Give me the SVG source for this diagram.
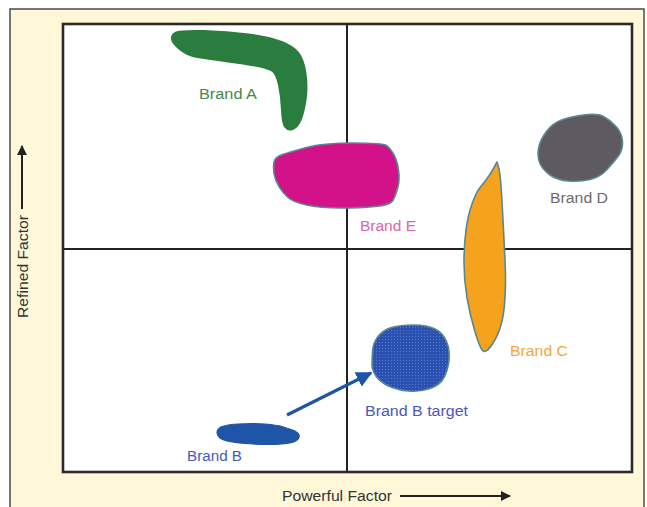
<svg xmlns="http://www.w3.org/2000/svg" width="647" height="507" viewBox="0 0 647 507">
<style>
.lbl{font-family:"Liberation Sans",Arial,sans-serif;font-size:15.5px}
.ax{font-family:"Liberation Sans",Arial,sans-serif;font-size:15.5px;fill:#333}
.blob{stroke:#5a8790;stroke-width:1.6;stroke-linejoin:round}
.grid{stroke:#222;stroke-width:2;fill:none}
</style>
<defs>
<pattern id="dots" width="3" height="3" patternUnits="userSpaceOnUse">
<rect width="3" height="3" fill="#2a50b0"/>
<rect x="1" y="0" width="1" height="1" fill="#5577cc"/>
</pattern>
<marker id="ah" viewBox="0 0 10 10" refX="9" refY="5" markerWidth="5" markerHeight="5" orient="auto" markerUnits="strokeWidth">
<path d="M0,0 L10,5 L0,10 z" fill="#1f55a6"/>
</marker>
<marker id="ahk" viewBox="0 0 10 10" refX="9" refY="5" markerWidth="5" markerHeight="5" orient="auto" markerUnits="strokeWidth">
<path d="M0,0 L10,5 L0,10 z" fill="#222"/>
</marker>
</defs>
<rect x="0" y="0" width="647" height="507" fill="#fff"/>
<rect x="10" y="9" width="634" height="510" fill="#fef8d8" stroke="#555" stroke-width="1.6"/>
<g id="chart">
<rect x="63" y="24" width="569" height="448" fill="#fff" stroke="#2a2a2a" stroke-width="2.6"/>
<line class="grid" x1="347" y1="24" x2="347" y2="472"/>
<line class="grid" x1="63" y1="249" x2="632" y2="249"/>
</g>
<g id="brand-a">
<path d="M176,33 Q180,31 203.5,31.5 Q227,32 248.5,35 Q270,38 281.5,42.5 Q293,47 298,53.5 Q303,60 305,73.5 Q307,87 305,100 Q303,113 300,120 Q297,127 292.5,128.5 Q288,130 285.5,126.5 Q283,123 282.5,110 Q282,97 279.5,85 Q277,73 272,70 Q267,67 255,65 Q243,63 225,60.5 Q207,58 197.5,56.5 Q188,55 180.5,49 Q173,43 172.5,39 Q172,35 176,33 Z" fill="#2a7d3e" stroke="#2a7d3e" stroke-width="3" stroke-linejoin="round"/>
<text class="lbl" x="228" y="98.5" text-anchor="middle" fill="#3f8a4f" textLength="58" lengthAdjust="spacingAndGlyphs">Brand A</text>
</g>
<g id="brand-e">
<path class="blob" d="M282.5,154.5 Q290,152 306.5,147.5 Q323,143 353,143 Q383,143 386.5,145.5 Q390,148 393.5,154 Q397,160 398.5,170 Q400,180 397.5,188.5 Q395,197 392.5,201 Q390,205 375,206.5 Q360,208 340,208 Q320,208 306.5,205 Q293,202 288,197.5 Q283,193 279,186.5 Q275,180 274,173.5 Q273,167 274,162 Q275,157 282.5,154.5 Z" fill="#d3128a"/>
<text class="lbl" x="388" y="230.5" text-anchor="middle" fill="#d868a8" textLength="56" lengthAdjust="spacingAndGlyphs">Brand E</text>
</g>
<g id="brand-d">
<path class="blob" d="M546.5,131.5 Q553,123 561.5,120 Q570,117 583.5,115 Q597,113 603.5,116.5 Q610,120 616,126.5 Q622,133 622.5,141.5 Q623,150 618,156.5 Q613,163 606.5,170 Q600,177 590,179.5 Q580,182 568.5,181 Q557,180 550,175 Q543,170 540,163.5 Q537,157 538.5,148.5 Q540,140 546.5,131.5 Z" fill="#5f5961"/>
<text class="lbl" x="579" y="202.5" text-anchor="middle" fill="#6e6870" textLength="58" lengthAdjust="spacingAndGlyphs">Brand D</text>
</g>
<g id="brand-c">
<path class="blob" d="M497,162 L498.5,167 Q500,172 501,186 Q502,200 503,220 Q504,240 505,260 Q506,280 505,297.5 Q504,315 501,325 Q498,335 494,341.5 Q490,348 487,350.5 Q484,353 481.5,349 Q479,345 474.5,330 Q470,315 467,297.5 Q464,280 464,262.5 Q464,245 466,230 Q468,215 472,204 Q476,193 479,189 Q482,185 486,180 Q490,175 493.5,168.5 Z" fill="#f5a31d"/>
<text class="lbl" x="539" y="355.5" text-anchor="middle" fill="#f5a53a" textLength="58" lengthAdjust="spacingAndGlyphs">Brand C</text>
</g>
<g id="brand-b-target">
<path class="blob" d="M372.5,351.5 Q373,343 378,336.5 Q383,330 391.5,327.5 Q400,325 413.5,325 Q427,325 435,329 Q443,333 446.5,341.5 Q450,350 449,360 Q448,370 444,377.5 Q440,385 430,388.5 Q420,392 408.5,391 Q397,390 388.5,386 Q380,382 376,376 Q372,370 372,365 Q372,360 372.5,351.5 Z" fill="url(#dots)" stroke="#3a5a80"/>
<text class="lbl" x="416.5" y="415.5" text-anchor="middle" fill="#4a58b8" textLength="103" lengthAdjust="spacingAndGlyphs">Brand B target</text>
</g>
<g id="brand-b">
<path d="M220,427.5 Q223,425 238,424 Q253,423 265,424 Q277,425 282,426.5 Q287,428 292.5,430 Q298,432 299,435 Q300,438 296.5,440.5 Q293,443 281.5,444 Q270,445 253.5,444 Q237,443 229.5,441.5 Q222,440 219.5,437.5 Q217,435 217,432.5 Q217,430 220,427.5 Z" fill="#1f55a6" stroke="#1f55a6" stroke-width="1.2" stroke-linejoin="round"/>
<text class="lbl" x="214.5" y="460.5" text-anchor="middle" fill="#4a58b8" textLength="55" lengthAdjust="spacingAndGlyphs">Brand B</text>
</g>
<g id="connectors">
<line x1="287" y1="415" x2="371" y2="373" stroke="#1f55a6" stroke-width="3.2" marker-end="url(#ah)"/>
</g>
<g id="axes">
<text class="ax" x="282" y="501" textLength="110" lengthAdjust="spacingAndGlyphs">Powerful Factor</text>
<line x1="400" y1="496" x2="510" y2="496" stroke="#222" stroke-width="2" marker-end="url(#ahk)"/>
<text class="ax" transform="translate(27.5,318) rotate(-90)" textLength="103" lengthAdjust="spacingAndGlyphs">Refined Factor</text>
<line x1="22" y1="209" x2="22" y2="146" stroke="#222" stroke-width="2" marker-end="url(#ahk)"/>
</g>
</svg>
